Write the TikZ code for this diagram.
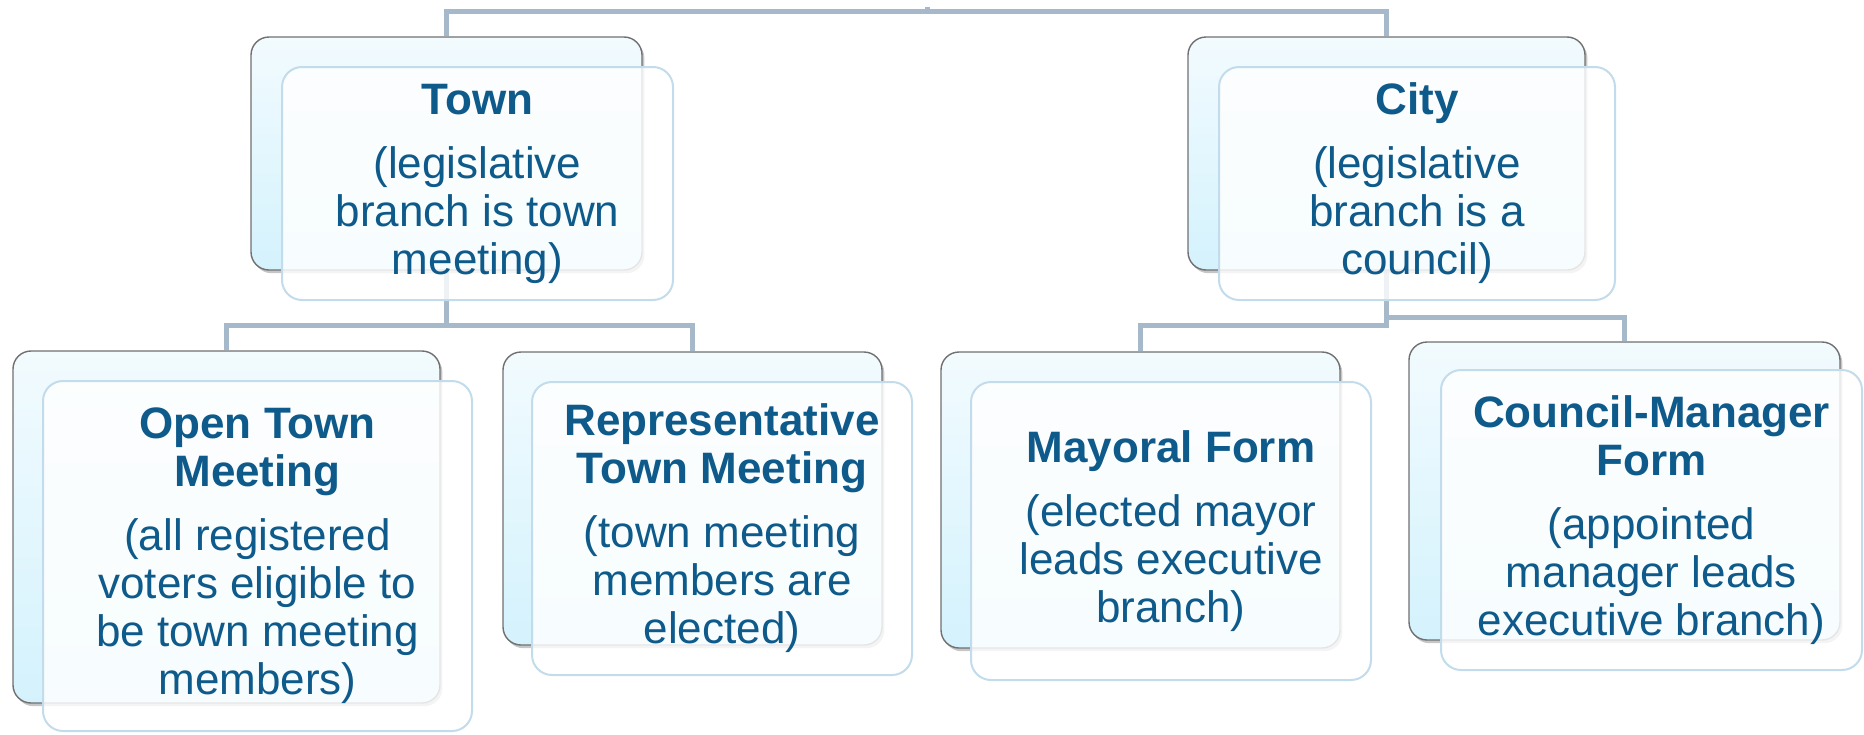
\documentclass[tikz,border=0pt]{standalone}
\usepackage{fontspec}
\setmainfont{Liberation Sans}
\usetikzlibrary{shadows}

\definecolor{txtblue}{RGB}{14,90,138}
\definecolor{linkblue}{RGB}{165,185,202}
\definecolor{backtop}{RGB}{242,251,254}
\definecolor{backbot}{RGB}{212,242,253}
\definecolor{boxgray}{RGB}{112,112,112}
\definecolor{frontline}{RGB}{195,220,236}

\pgfdeclarelayer{bg}
\pgfsetlayers{bg,main}

\begin{document}
\begin{tikzpicture}[x=0.5pt,y=-0.5pt,
    backbox/.style={draw=boxgray, line width=0.7pt, rounded corners=9pt,
        top color=backtop, bottom color=backbot, inner sep=0pt,
        drop shadow={shadow xshift=1.2pt, shadow yshift=-1.6pt, opacity=0.45}},
    frontbox/.style={draw=frontline, line width=1pt, rounded corners=10pt,
        fill=white, fill opacity=0.82, text opacity=1, text=txtblue,
        align=center, inner sep=0pt, font=\fontsize{22}{24}\selectfont},
    link/.style={draw=linkblue, line width=2.5pt}]
    \useasboundingbox (0,0) rectangle (1864,734);

    % top level
    \node[backbox, minimum width=195.5pt, minimum height=116.5pt] (townB) at (446.5,153.5) {};
    \node[frontbox, minimum width=195.5pt, minimum height=116.5pt] (town) at (477.5,183.5)
        {\textbf{Town}\\[8pt] (legislative\\ branch is town\\ meeting)};

    \node[backbox, minimum width=198.5pt, minimum height=116.5pt] (cityB) at (1386.5,153.5) {};
    \node[frontbox, minimum width=198pt, minimum height=116.5pt] (city) at (1417,183.5)
        {\textbf{City}\\[8pt] (legislative\\ branch is a\\ council)};

    % town forms
    \node[backbox, minimum width=213.5pt, minimum height=176pt] (openB) at (226.5,527) {};
    \node[frontbox, minimum width=214.5pt, minimum height=175pt] (open) at (257.5,556)
        {\textbf{Open Town}\\ \textbf{Meeting}\\[8pt] (all registered\\ voters eligible to\\ be town meeting\\ members)};

    \node[backbox, minimum width=189.5pt, minimum height=146.5pt] (repB) at (692.5,498.5) {};
    \node[frontbox, minimum width=190pt, minimum height=146.5pt] (rep) at (722,528.5)
        {\textbf{Representative}\\ \textbf{Town Meeting}\\[8pt] (town meeting\\ members are\\ elected)};

    % city forms
    \node[backbox, minimum width=199.5pt, minimum height=148pt] (mayB) at (1140.5,500) {};
    \node[frontbox, minimum width=200pt, minimum height=149pt] (mayor) at (1171,531)
        {\textbf{Mayoral Form}\\[8pt] (elected mayor\\ leads executive\\ branch)};

    \node[backbox, minimum width=215.5pt, minimum height=149pt] (cmB) at (1624.5,491) {};
    \node[frontbox, minimum width=210.5pt, minimum height=150pt] (cm) at (1651.5,520)
        {\textbf{Council-Manager}\\ \textbf{Form}\\[8pt] (appointed\\ manager leads\\ executive branch)};

    \coordinate (rootTop) at (927,7);

    \begin{pgfonlayer}{bg}
        \draw[link] (townB.north) -- ++(0,-25) -| (cityB.north);
        \draw[link] (rootTop) -- ++(0,5);
        \draw[link] (townB.south) -- ++(0,55) coordinate (townJ);
        \draw[link] (openB.north) |- (townJ) -| (repB.north);
        \draw[link] (cityB.south) -- ++(0,55) -| (mayB.north);
        \draw[link] (cityB.south) ++(0,47) -| (cmB.north);
    \end{pgfonlayer}
\end{tikzpicture}
\end{document}
